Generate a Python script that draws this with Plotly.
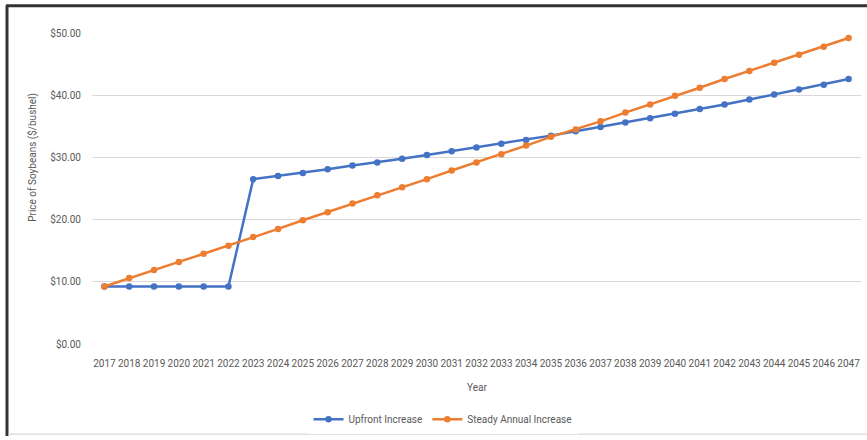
import plotly.graph_objects as go

years = list(range(2017, 2048))
upfront = [9.25, 9.25, 9.25, 9.25, 9.25, 9.25,
           26.5, 27.0, 27.5, 28.1, 28.7, 29.2, 29.8, 30.4, 31.0, 31.6,
           32.2, 32.8, 33.5, 34.2, 34.9, 35.6, 36.3, 37.0, 37.8, 38.5,
           39.3, 40.1, 40.9, 41.7, 42.6]
steady = [9.25, 10.6, 11.9, 13.2, 14.5, 15.8, 17.2, 18.5, 19.9, 21.2,
          22.6, 23.9, 25.2, 26.5, 27.9, 29.2, 30.5, 31.9, 33.3, 34.5,
          35.8, 37.2, 38.5, 39.9, 41.2, 42.6, 43.9, 45.2, 46.5, 47.8, 49.2]
y_ticks = [0, 10, 20, 30, 40, 50]
y_labels = ["$0.00", "$10.00", "$20.00", "$30.00", "$40.00", "$50.00"]

W, H = 867, 440
ML, MR, MT, MB = 92, 6, 33, 93
PW, PH = W - ML - MR, H - MT - MB
gray = "#595959"
FONT = "Roboto"

def px(x):
    return (x - ML) / PW

def py(y):
    return (H - MB - y) / PH

fig = go.Figure()
fig.add_trace(go.Scatter(x=years, y=upfront, name="Upfront Increase", mode="lines+markers",
                         line=dict(color="#4472C4", width=2.5),
                         marker=dict(color="#4472C4", size=6.5)))
fig.add_trace(go.Scatter(x=years, y=steady, name="Steady Annual Increase", mode="lines+markers",
                         line=dict(color="#ED7D31", width=2.5),
                         marker=dict(color="#ED7D31", size=6.5)))

fig.update_layout(
    width=W, height=H,
    margin=dict(l=ML, r=MR, t=MT, b=MB),
    paper_bgcolor="white", plot_bgcolor="white",
    font=dict(family=FONT, size=10, color=gray),
    showlegend=True,
    legend=dict(orientation="h", x=px(443), xanchor="center", y=py(423), yanchor="middle",
                font=dict(size=10, color=gray), itemwidth=30, tracegroupgap=0),
    xaxis=dict(range=[2016.5, 2047.5], tickmode="array", tickvals=years,
               ticktext=[str(y) for y in years], tickangle=0,
               showgrid=False, zeroline=False, showline=False,
               ticks="", ticklabelstandoff=12, fixedrange=True,
               tickfont=dict(size=10, color=gray)),
    yaxis=dict(range=[0, 50], tickmode="array", tickvals=y_ticks, ticktext=y_labels,
               showgrid=True, gridcolor="#d9d9d9", gridwidth=1, zeroline=False,
               showline=False, ticks="", ticklabelstandoff=10,
               tickfont=dict(size=10, color=gray)),
    annotations=[
        dict(text="Year", xref="paper", yref="paper", x=px(477), y=py(391),
             showarrow=False, font=dict(size=10, color=gray), xanchor="center", yanchor="middle"),
        dict(text="Price of Soybeans ($/bushel)", xref="paper", yref="paper", x=px(33), y=py(159),
             showarrow=False, textangle=-90, font=dict(size=10, color=gray),
             xanchor="center", yanchor="middle"),
    ],
    shapes=[
        dict(type="line", xref="paper", yref="paper", x0=px(7), x1=px(7), y0=py(5), y1=py(440),
             line=dict(color="#333333", width=3)),
        dict(type="line", xref="paper", yref="paper", x0=px(6), x1=px(867), y0=py(5.5), y1=py(5.5),
             line=dict(color="#333333", width=3)),
        dict(type="line", xref="paper", yref="paper", x0=px(8), x1=px(867), y0=py(438), y1=py(438),
             line=dict(color="#cfcfcf", width=1)),
    ],
)

fig.write_html("out.html")
